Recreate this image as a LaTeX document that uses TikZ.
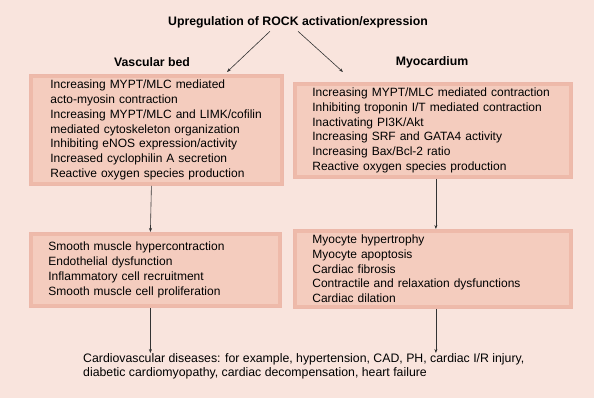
\documentclass[tikz,border=0pt]{standalone}
\usepackage{fontspec}
\setmainfont{Liberation Sans}
\usetikzlibrary{arrows.meta}
\definecolor{bgpink}{HTML}{F9E4DD}
\definecolor{boxpink}{HTML}{F4CCBE}
\definecolor{edgepink}{HTML}{E49A86}
\begin{document}
\begin{tikzpicture}[x=1pt,y=-1pt,
  every node/.style={font=\fontsize{12.3}{14.7}\selectfont},
  box/.style={rectangle,fill=boxpink,draw=edgepink!70,line width=0.8pt,
    font=\fontsize{12}{14.7}\selectfont,
    align=left,inner xsep=19pt,inner ysep=0pt,anchor=north west,
    path picture={\draw[edgepink,line width=7pt,opacity=0.35]
      (path picture bounding box.south west) rectangle (path picture bounding box.north east);}},
  head/.style={font=\fontsize{12.3}{14.7}\selectfont\bfseries},
  arr/.style={-{Stealth[length=4pt,width=3pt]},line width=0.6pt,black!80}]
  \useasboundingbox (0,0) rectangle (600,404);
  \fill[bgpink] (0,0) rectangle (594,398);
  \node[head] (title) at (298,22) {Upregulation of ROCK activation/expression};
  \node[head] (vasc) at (152,62) {Vascular bed};
  \node[head] (myo) at (432,62) {Myocardium};
  % upper boxes
  \node[box,inner xsep=21pt,text width=212pt,minimum height=111pt] (lb1) at (29,74) {Increasing MYPT/MLC mediated\\acto-myosin contraction\\Increasing MYPT/MLC and LIMK/cofilin\\mediated cytoskeleton organization\\Inhibiting eNOS expression/activity\\Increased cyclophilin A secretion\\Reactive oxygen species production};
  \node[box,text width=241pt,minimum height=96pt] (rb1) at (293,82) {Increasing MYPT/MLC mediated contraction\\Inhibiting troponin I/T mediated contraction\\Inactivating PI3K/Akt\\Increasing SRF and GATA4 activity\\Increasing Bax/Bcl-2 ratio\\Reactive oxygen species production};
  % lower boxes
  \node[box,text width=214pt,minimum height=75pt] (lb2) at (29,232) {Smooth muscle hypercontraction\\Endothelial dysfunction\\Inflammatory cell recruitment\\Smooth muscle cell proliferation};
  \node[box,text width=241pt,minimum height=79pt] (rb2) at (293,229) {Myocyte hypertrophy\\Myocyte apoptosis\\Cardiac fibrosis\\Contractile and relaxation dysfunctions\\Cardiac dilation};
  \node[align=left,anchor=north west,inner sep=0pt] (dis) at (83,353) {Cardiovascular diseases: for example, hypertension, CAD, PH, cardiac I/R injury,\\diabetic cardiomyopathy, cardiac decompensation, heart failure};
  \coordinate (la) at (227,72);
  \coordinate (ra) at (343,72);
  \draw[arr] ([xshift=-28pt]title.south) -- (la);
  \draw[arr] (title.south) -- (ra);
  \draw[arr] ([xshift=-5pt]lb1.south) -- ([xshift=-5pt]lb2.north);
  \draw[arr] ([xshift=3pt]rb1.south) -- ([xshift=3pt]rb1.south |- rb2.north);
  \draw[arr] ([xshift=-5pt]lb2.south) -- ([xshift=-5pt]lb2.south |- dis.north);
  \draw[arr] ([xshift=3pt]rb2.south) -- ([xshift=3pt]rb2.south |- dis.north);
\end{tikzpicture}
\end{document}
